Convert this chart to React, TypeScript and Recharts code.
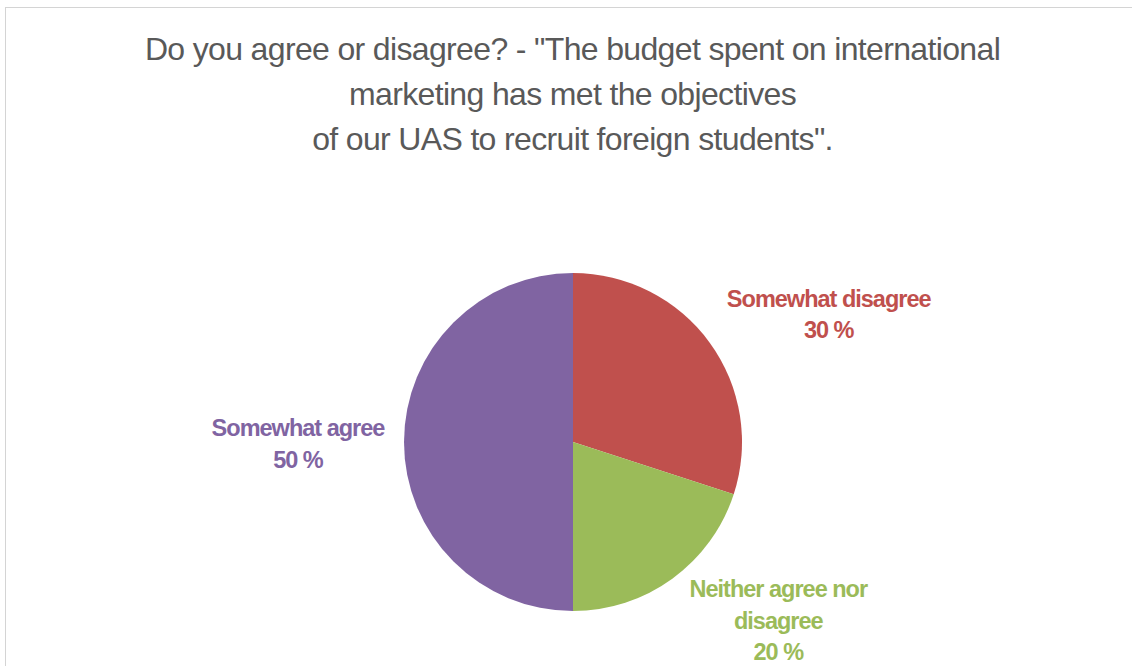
import React from "react";
import { PieChart, Pie, Cell } from "recharts";

const categories = ["Somewhat disagree", "Neither agree nor disagree", "Somewhat agree"];
const values = [30, 20, 50];
const colors = ["#C0504D", "#9BBB59", "#8064A2"];
const labelLines = [["Somewhat disagree"], ["Neither agree nor", "disagree"], ["Somewhat agree"]];
const titleLines = [
  'Do you agree or disagree? - "The budget spent on international',
  "marketing has met the objectives",
  'of our UAS to recruit foreign students".',
];

const data = categories.map((name, i) => ({ name, value: values[i] }));

const LABEL_SHIFT: Record<string, [number, number]> = {
  "Somewhat disagree": [119, -28],
  "Neither agree nor disagree": [106, 42],
  "Somewhat agree": [-106, 2],
};

const RADIAN = Math.PI / 180;

const renderLabel = (props: any) => {
  const { cx, cy, midAngle, outerRadius, index, name, value } = props;
  const px = cx + outerRadius * Math.cos(-midAngle * RADIAN);
  const py = cy + outerRadius * Math.sin(-midAngle * RADIAN);
  const shift = LABEL_SHIFT[name] || [0, 0];
  const x = px + shift[0];
  const y = py + shift[1];
  const lines = [...labelLines[index], `${value} %`];
  const lh = 31.5;
  const y0 = y - ((lines.length - 1) / 2) * lh;
  return (
    <text
      x={x}
      y={y0}
      textAnchor="middle"
      dominantBaseline="central"
      fill={colors[index]}
      style={{ fontFamily: "Liberation Sans, Arial, sans-serif", fontWeight: 700, fontSize: 23.5, letterSpacing: -1 }}
    >
      {lines.map((l, i) => (
        <tspan key={i} x={x} y={y0 + i * lh}>
          {l}
        </tspan>
      ))}
    </text>
  );
};

export default function App() {
  return (
    <div style={{ position: "absolute", left: 0, top: 0, width: 1132, height: 666, background: "#fff", overflow: "hidden" }}>
      <div
        style={{
          position: "absolute",
          left: 5,
          top: 7,
          width: 1200,
          height: 800,
          border: "1px solid #d4d4d4",
        }}
      />
      <div
        style={{
          position: "absolute",
          left: 0,
          top: 27,
          width: 1145,
          textAlign: "center",
          fontFamily: "Liberation Sans, Arial, sans-serif",
          fontSize: 32,
          letterSpacing: -0.65,
          lineHeight: "45px",
          color: "#595959",
        }}
      >
        {titleLines.map((t, i) => (
          <div key={i}>{t}</div>
        ))}
      </div>
      <div style={{ position: "absolute", left: 0, top: 0 }}>
        <PieChart width={1132} height={666} margin={{ top: 0, right: 0, bottom: 0, left: 0 }}>
          <Pie
            data={data}
            dataKey="value"
            nameKey="name"
            cx={573}
            cy={442}
            outerRadius={169}
            startAngle={90}
            endAngle={-270}
            stroke="none"
            label={renderLabel}
            labelLine={false}
            isAnimationActive={false}
          >
            {data.map((d, i) => (
              <Cell key={d.name} fill={colors[i]} />
            ))}
          </Pie>
        </PieChart>
      </div>
    </div>
  );
}
